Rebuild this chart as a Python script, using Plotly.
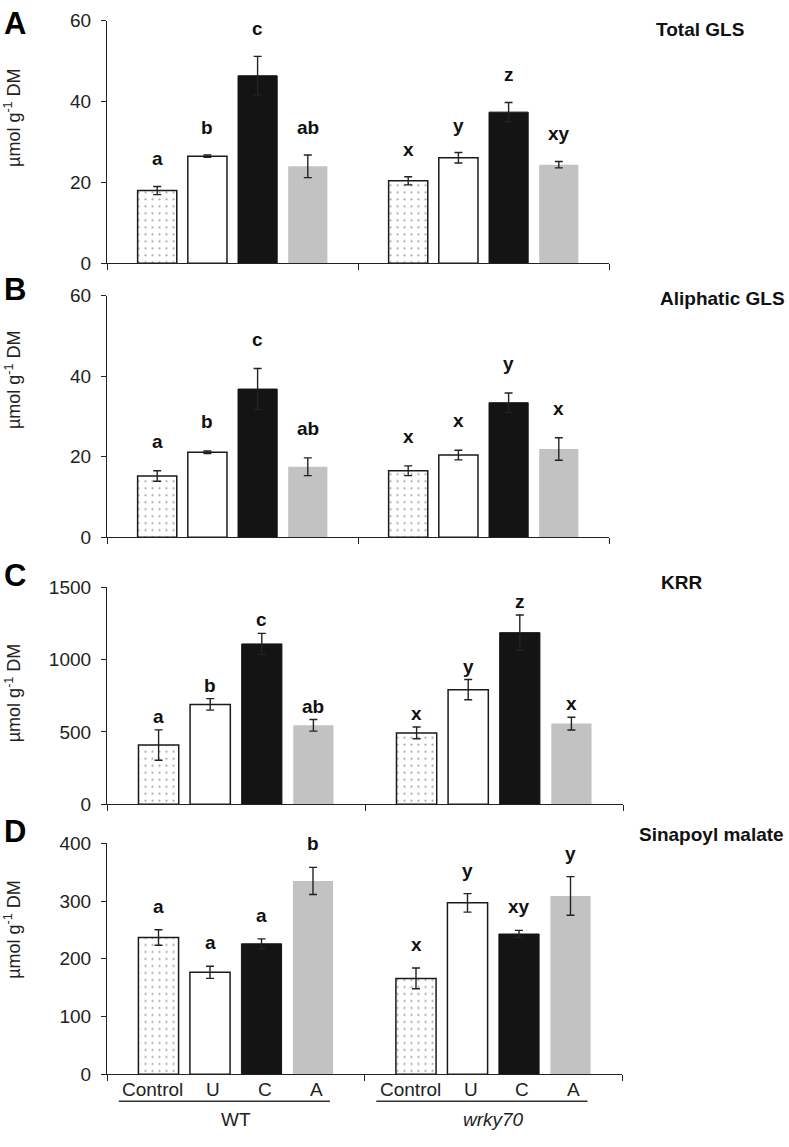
import plotly.graph_objects as go

# ---------------- data ----------------
treatments = ["Control", "U", "C", "A"]
genotypes = ["WT", "wrky70"]
panel_letters = ["A", "B", "C", "D"]
panel_titles = ["Total GLS", "Aliphatic GLS", "KRR", "Sinapoyl malate"]

total_gls_wt = [18.0, 26.5, 46.4, 24.0]
total_gls_wt_err = [1.0, 0.3, 4.8, 2.8]
total_gls_wrky = [20.4, 26.1, 37.4, 24.4]
total_gls_wrky_err = [1.0, 1.3, 2.4, 0.8]
total_gls_wt_sig = ["a", "b", "c", "ab"]
total_gls_wrky_sig = ["x", "y", "z", "xy"]

aliph_wt = [15.2, 21.1, 36.8, 17.5]
aliph_wt_err = [1.3, 0.3, 5.1, 2.2]
aliph_wrky = [16.5, 20.4, 33.4, 21.9]
aliph_wrky_err = [1.2, 1.2, 2.4, 2.8]
aliph_wt_sig = ["a", "b", "c", "ab"]
aliph_wrky_sig = ["x", "x", "y", "x"]

krr_wt = [409, 690, 1108, 545]
krr_wt_err = [105, 40, 73, 40]
krr_wrky = [493, 792, 1186, 557]
krr_wrky_err = [41, 70, 122, 44]
krr_wt_sig = ["a", "b", "c", "ab"]
krr_wrky_sig = ["x", "y", "z", "x"]

sm_wt = [237, 176.5, 226, 335]
sm_wt_err = [13.5, 10.5, 8.6, 23.5]
sm_wrky = [166, 297, 243, 309]
sm_wrky_err = [18, 16, 6.3, 33.5]
sm_wt_sig = ["a", "a", "a", "b"]
sm_wrky_sig = ["x", "y", "xy", "y"]

y_ranges = [[0, 60], [0, 60], [0, 1500], [0, 400]]
y_dticks = [20, 20, 500, 100]

panels = [
    (total_gls_wt, total_gls_wt_err, total_gls_wrky, total_gls_wrky_err, total_gls_wt_sig, total_gls_wrky_sig),
    (aliph_wt, aliph_wt_err, aliph_wrky, aliph_wrky_err, aliph_wt_sig, aliph_wrky_sig),
    (krr_wt, krr_wt_err, krr_wrky, krr_wrky_err, krr_wt_sig, krr_wrky_sig),
    (sm_wt, sm_wt_err, sm_wrky, sm_wrky_err, sm_wt_sig, sm_wrky_sig),
]

# ---------------- layout constants (pixels) ----------------
W, H = 789, 1147
FONT = "Liberation Sans, Arial, sans-serif"
x_px = [(107, 609), (107, 609), (107, 623), (107, 622)]
y_px = [(11, 258), (291, 537), (588, 809), (849, 1084)]
ytitle_cy = [110, 377, 696, 937]
letter_cy = [14, 285, 576, 837]
title_x = [654, 658, 659, 637]
title_cy = [20, 294, 583, 840]
sig_shift = [15, 17, 1, 11]

def px2x(p):
    return p / W

def px2y(p):
    return 1 - p / H

styles = [
    dict(color="white", line=dict(color="#1a1a1a", width=1.5),
         pattern=dict(shape=".", fgcolor="#444444", bgcolor="white", size=7, solidity=0.08)),
    dict(color="white", line=dict(color="#1a1a1a", width=1.5)),
    dict(color="#141414", line=dict(color="#141414", width=1)),
    dict(color="#c2c2c2", line=dict(color="#c2c2c2", width=0)),
]

fig = go.Figure()
annotations = []
shapes = []
layout = {}

for p, (wt, wt_err, wr, wr_err, wt_sig, wr_sig) in enumerate(panels):
    sfx = "" if p == 0 else str(p + 1)
    xa, ya = "x" + sfx, "y" + sfx
    for t, name in enumerate(treatments):
        xs = [t + 1, t + 6]
        fig.add_trace(go.Bar(
            x=xs, y=[wt[t], wr[t]], width=0.78, name=name,
            marker=styles[t],
            error_y=dict(type="data", array=[wt_err[t], wr_err[t]], color="#222222",
                         thickness=1.4, width=4),
            xaxis=xa, yaxis=ya, showlegend=False, hoverinfo="skip",
        ))
        for xv, v, e, s in ((xs[0], wt[t], wt_err[t], wt_sig[t]), (xs[1], wr[t], wr_err[t], wr_sig[t])):
            annotations.append(dict(x=xv, y=v + e, xref=xa, yref=ya, text="<b>%s</b>" % s,
                                    showarrow=False, xanchor="center", yanchor="bottom",
                                    yshift=sig_shift[p],
                                    font=dict(family=FONT, size=19, color="#111111")))
    layout["xaxis" + sfx] = dict(
        domain=[px2x(x_px[p][0]), px2x(x_px[p][1])], range=[0, 10], anchor=ya,
        tickvals=[0, 5, 10], ticks="outside", ticklen=6, tickwidth=1.2, tickcolor="#222222",
        showticklabels=False, showline=True, linecolor="#222222", linewidth=1.2,
        showgrid=False, zeroline=False, fixedrange=True)
    layout["yaxis" + sfx] = dict(
        domain=[px2y(y_px[p][1]), px2y(y_px[p][0])], range=y_ranges[p], dtick=y_dticks[p],
        anchor=xa, ticks="outside", ticklen=5, tickwidth=1.2, tickcolor="#222222",
        showline=True, linecolor="#222222", linewidth=1.2, showgrid=False, zeroline=False,
        tickfont=dict(family=FONT, size=19, color="#222222"), ticklabelstandoff=6,
        fixedrange=True)
    # y title
    annotations.append(dict(x=px2x(13), y=px2y(ytitle_cy[p]), xref="paper", yref="paper",
                            text="µmol g<sup>-1</sup> DM", textangle=-90, showarrow=False,
                            xanchor="center", yanchor="middle",
                            font=dict(family=FONT, size=18, color="#222222")))
    # panel letter
    annotations.append(dict(x=px2x(15), y=px2y(letter_cy[p]), xref="paper", yref="paper",
                            text="<b>%s</b>" % panel_letters[p], showarrow=False,
                            xanchor="center", yanchor="middle",
                            font=dict(family=FONT, size=31, color="#000000")))
    # panel title
    annotations.append(dict(x=px2x(title_x[p]), y=px2y(title_cy[p]), xref="paper", yref="paper",
                            text="<b>%s</b>" % panel_titles[p], showarrow=False,
                            xanchor="left", yanchor="middle",
                            font=dict(family=FONT, size=19, color="#111111")))

# bottom category labels (panel D)
for g in range(2):
    for t, name in enumerate(treatments):
        annotations.append(dict(x=t + 1 + 5 * g, y=px2y(1100), xref="x4", yref="paper",
                                text=name, showarrow=False, xshift=(-6 if t == 0 else 3),
                                xanchor="center", yanchor="middle",
                                font=dict(family=FONT, size=19, color="#222222")))
    shapes.append(dict(type="line", xref="x4", yref="paper",
                       x0=0.23 + 5 * g, x1=4.33 + 5 * g, y0=px2y(1111.5), y1=px2y(1111.5),
                       line=dict(color="#333333", width=1.5)))
    annotations.append(dict(x=2.5 + 5 * g, y=px2y(1130), xref="x4", yref="paper",
                            text=(genotypes[g] if g == 0 else "<i>%s</i>" % genotypes[g]),
                            showarrow=False, xanchor="center", yanchor="middle",
                            font=dict(family=FONT, size=19, color="#222222")))

fig.update_layout(
    width=W, height=H, margin=dict(l=0, r=0, t=0, b=0),
    paper_bgcolor="white", plot_bgcolor="white", barmode="overlay",
    annotations=annotations, shapes=shapes, **layout)

page_js = (
    "var gd=document.getElementById('{plot_id}');"
    "var de=document.documentElement, b=document.body;"
    "de.style.margin='0';de.style.padding='0';de.style.overflow='hidden';"
    "b.style.margin='0';b.style.padding='0';b.style.overflow='hidden';"
    "gd.style.position='fixed';gd.style.left='0px';gd.style.top='0px';"
)

fig.write_html("out.html", config={"displayModeBar": False}, post_script=page_js)
